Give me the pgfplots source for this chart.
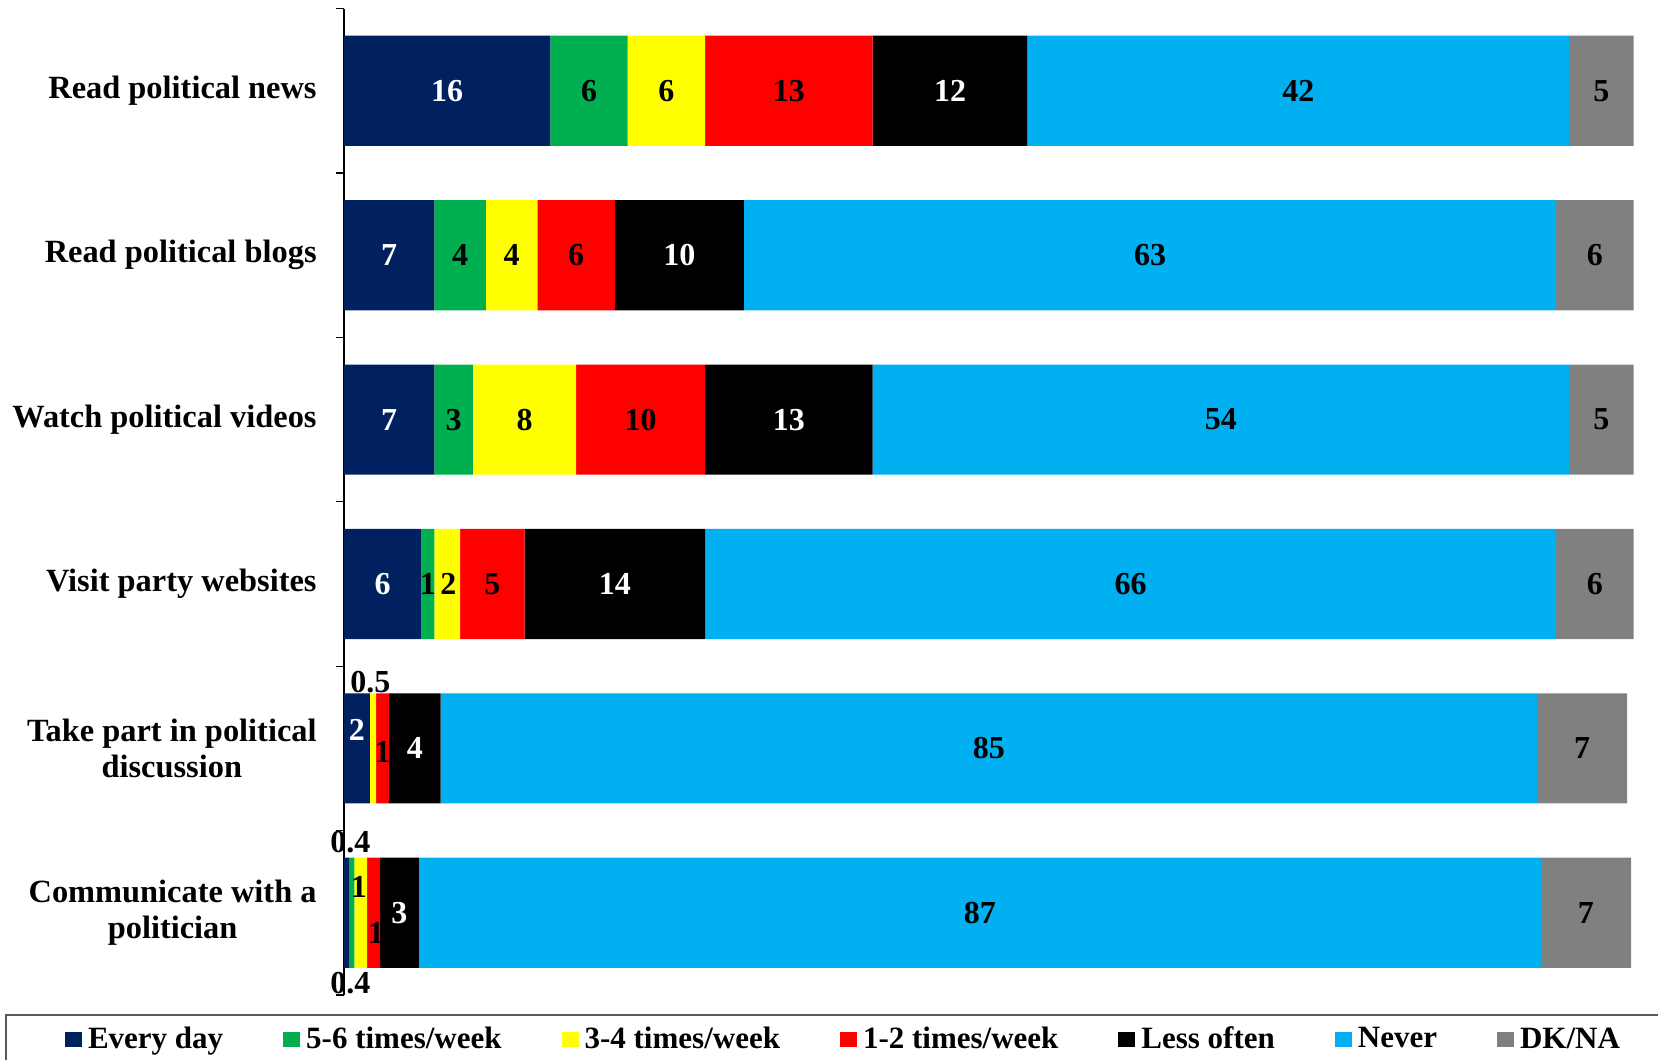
\documentclass[border=0pt]{standalone}
\usepackage{pgfplots}
\pgfplotsset{compat=1.18}
\usepackage{pgfplotstable}
\usepackage{fontspec}
\setmainfont{Liberation Serif}

\definecolor{cEvery}{HTML}{002060}
\definecolor{cFive}{HTML}{00B050}
\definecolor{cThree}{HTML}{FFFF00}
\definecolor{cOne}{HTML}{FF0000}
\definecolor{cLess}{HTML}{000000}
\definecolor{cNever}{HTML}{00B0F0}
\definecolor{cDK}{HTML}{808080}

\pgfplotsset{sqlegend/.style={legend image code/.code={\fill[##1] (0pt,-3.75pt) rectangle (8.5pt,3.75pt);}}}

% shares in percent, one row per activity
\pgfplotstableread{
y every five three one less never dk
0 16  6   6   13 12 42 5
1 7   4   4   6  10 63 6
2 7   3   8   10 13 54 5
3 6   1   2   5  14 66 6
4 2   0   0.5 1  4  85 7
5 0.4 0.4 1   1  3  87 7
}\shares

% labels set in black
\pgfplotstableread{
x y lab
19 0 6
25 0 6
34.5 0 13
74 0 42
97.5 0 5
9 1 4
13 1 4
18 1 6
62.5 1 63
97 1 6
8.5 2 3
14 2 8
23 2 10
68 2 54
97.5 2 5
6.5 3 1
8.1 3 2
11.5 3 5
61 3 66
97 3 6
2.05 3.595 0.5
3 4.02 1
50 4 85
96 4 7
0.5 4.57 0.4
0.5 5.43 0.4
1.15 4.84 1
2.5 5.12 1
49.3 5 87
96.3 5 7
}\blacklabels

% labels set in white
\pgfplotstableread{
x y lab
8 0 16
47 0 12
3.5 1 7
26 1 10
3.5 2 7
34.5 2 13
3 3 6
21 3 14
1 3.89 2
5.5 4 4
4.3 5 3
}\whitelabels

\begin{document}
\begin{tikzpicture}
\begin{axis}[
  scale only axis,
  width=644.8pt, height=493.2pt,
  xbar stacked,
  bar width=0.67,
  xmin=0, xmax=100,
  ymin=-0.5, ymax=5.5,
  y dir=reverse,
  axis x line=none,
  axis y line*=left,
  y axis line style={black, line width=0.6pt},
  ytick={0,1,2,3,4,5},
  yticklabels={Read political news, Read political blogs, Watch political videos, Visit party websites, {Take part in political\\discussion}, {Communicate with a\\politician}},
  yticklabel style={align=center, inner xsep=0pt, xshift=-13.5pt, font=\fontsize{16.2}{18}\selectfont\bfseries},
  major tick length=0pt,
  minor ytick={-0.5,0.5,1.5,2.5,3.5,4.5,5.5},
  minor tick length=4.2pt,
  ytick align=outside,
  minor tick style={black, line width=0.6pt},
  legend columns=7,
  legend cell align=left,
  legend style={
    at={(-0.2627,-0.0193)}, anchor=north west,
    draw={black!65}, line width=0.8pt,
    inner xsep=29.5pt, inner ysep=4pt,
    font=\fontsize{15.5}{18}\selectfont\bfseries,
    nodes={inner xsep=0pt, inner ysep=2pt},
    /tikz/every odd column/.append style={column sep=3pt},
    /tikz/every even column/.append style={column sep=30pt},
  },
]
\addplot[fill=cEvery, draw=none, sqlegend] table[x=every, y=y] {\shares};
\addlegendentry{Every day}
\addplot[fill=cFive, draw=none, sqlegend] table[x=five, y=y] {\shares};
\addlegendentry{5-6 times/week}
\addplot[fill=cThree, draw=none, sqlegend] table[x=three, y=y] {\shares};
\addlegendentry{3-4 times/week}
\addplot[fill=cOne, draw=none, sqlegend] table[x=one, y=y] {\shares};
\addlegendentry{1-2 times/week}
\addplot[fill=cLess, draw=none, sqlegend] table[x=less, y=y] {\shares};
\addlegendentry{Less often}
\addplot[fill=cNever, draw=none, sqlegend] table[x=never, y=y] {\shares};
\addlegendentry{Never}
\addplot[fill=cDK, draw=none, sqlegend] table[x=dk, y=y] {\shares};
\addlegendentry{DK/NA}
\end{axis}

\begin{axis}[
  scale only axis,
  width=644.8pt, height=493.2pt,
  xmin=0, xmax=100,
  ymin=-0.5, ymax=5.5,
  y dir=reverse,
  hide axis, clip=false,
  every node near coord/.append style={anchor=center, inner sep=0pt, font=\fontsize{16}{18}\selectfont\bfseries},
]
\addplot[draw=none, mark=none, nodes near coords, point meta=explicit symbolic,
  every node near coord/.append style={text=black}] table[x=x, y=y, meta=lab] {\blacklabels};
\addplot[draw=none, mark=none, nodes near coords, point meta=explicit symbolic,
  every node near coord/.append style={text=white}] table[x=x, y=y, meta=lab] {\whitelabels};
\end{axis}

\pgfresetboundingbox
\path[use as bounding box] (-172pt,-32pt) rectangle (657pt,497.5pt);
\end{tikzpicture}
\end{document}
